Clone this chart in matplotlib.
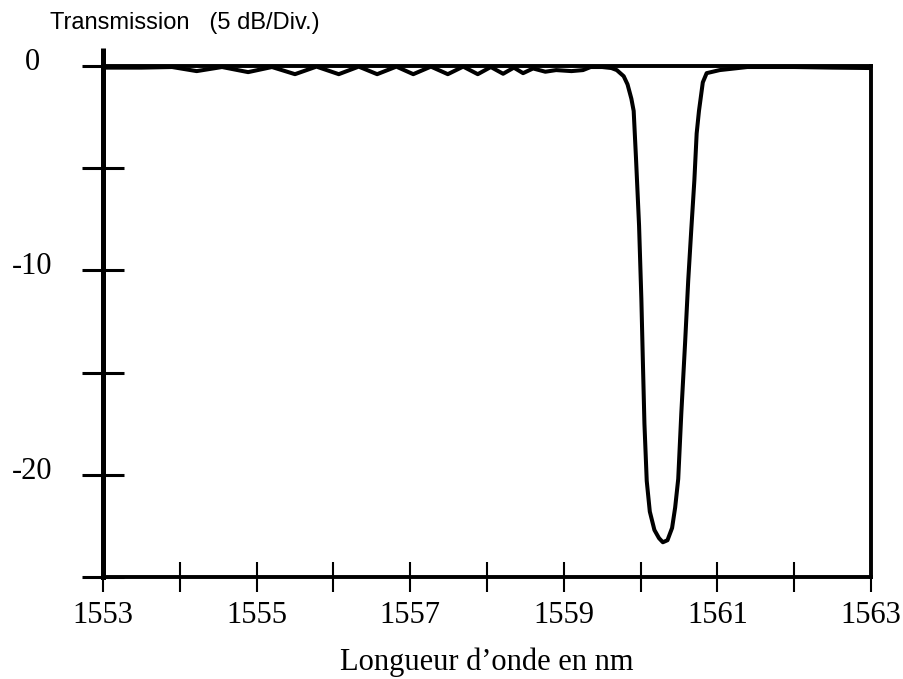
"""Transmission spectrum of a fibre Bragg grating"""
import matplotlib
matplotlib.use("Agg")
import matplotlib.pyplot as plt
from matplotlib.transforms import ScaledTranslation

# wavelength (nm) and transmission (dB)
wl = [1553.0, 1553.5, 1553.9, 1554.22, 1554.55, 1554.89, 1555.2, 1555.50,
      1555.78, 1556.07, 1556.33, 1556.57, 1556.82, 1557.04, 1557.27, 1557.49,
      1557.69, 1557.88, 1558.05, 1558.21, 1558.35, 1558.47, 1558.6, 1558.76,
      1558.9, 1559.1, 1559.25, 1559.35, 1559.5, 1559.62, 1559.69, 1559.78,
      1559.83, 1559.88, 1559.91, 1559.94, 1559.98, 1560.01, 1560.03, 1560.05,
      1560.08, 1560.12, 1560.18, 1560.24, 1560.29, 1560.35, 1560.41, 1560.45,
      1560.49, 1560.53, 1560.58, 1560.62, 1560.66, 1560.70, 1560.73, 1560.76,
      1560.81, 1560.86, 1561.03, 1561.39, 1562.0, 1562.5, 1563.0]
db = [-0.08, -0.08, -0.05, -0.25, -0.05, -0.3, -0.05, -0.4,
      -0.03, -0.4, -0.03, -0.4, -0.03, -0.4, -0.03, -0.4,
      -0.03, -0.4, -0.05, -0.38, -0.08, -0.35, -0.12, -0.28,
      -0.2, -0.25, -0.2, -0.05, -0.05, -0.1, -0.2, -0.5,
      -0.9, -1.6, -2.2, -4.5, -7.8, -11.4, -14.5, -17.5,
      -20.3, -21.8, -22.7, -23.1, -23.3, -23.2, -22.6, -21.6,
      -20.2, -17.0, -13.5, -10.5, -8.0, -5.6, -3.3, -2.2,
      -0.8, -0.35, -0.2, -0.05, -0.05, -0.08, -0.1]

x_ticks = list(range(1553, 1564))
x_labels = [str(t) if t % 2 == 1 else "" for t in x_ticks]
y_ticks = [0, -5, -10, -15, -20, -25]
y_labels = ["0", "", "-10", "", "-20", ""]

serif = "Liberation Serif"

fig = plt.figure(figsize=(9.04, 6.79), dpi=100)
ax = fig.add_axes([0.1139, 0.1502, 0.8496, 0.7526])

ax.plot(wl, db, color="black", lw=2.9, solid_joinstyle="round")

ax.set_xlim(1553, 1563)
ax.set_ylim(-25, 0)

for side in ["top", "right", "bottom"]:
    ax.spines[side].set_linewidth(2.8)
ax.spines["left"].set_linewidth(3.6)
# left axis sticks out a little above the frame
ax.plot([0, 0], [1, 1.035], transform=ax.transAxes, color="black",
        lw=3.6, clip_on=False, solid_capstyle="butt")

ax.set_xticks(x_ticks)
ax.set_xticklabels(x_labels, fontsize=22, family=serif)
ax.set_yticks(y_ticks)
ax.set_yticklabels(y_labels, fontsize=22, family=serif)

ax.tick_params(axis="x", direction="inout", length=22, width=1.5, pad=6)
ax.tick_params(axis="y", direction="inout", length=30, width=2.2, pad=36)
shift = ScaledTranslation(0, 5 / 72, fig.dpi_scale_trans)
for lab in ax.get_yticklabels():
    lab.set_horizontalalignment("center")
    lab.set_transform(lab.get_transform() + shift)

ax.set_xlabel("Longueur d\u2019onde en nm", fontsize=22, family=serif,
              labelpad=13)

fig.text(0.055, 0.966, "Transmission   (5 dB/Div.)", fontsize=17,
         family="Liberation Sans", va="center", ha="left")

fig.savefig("out.png", dpi=100)
